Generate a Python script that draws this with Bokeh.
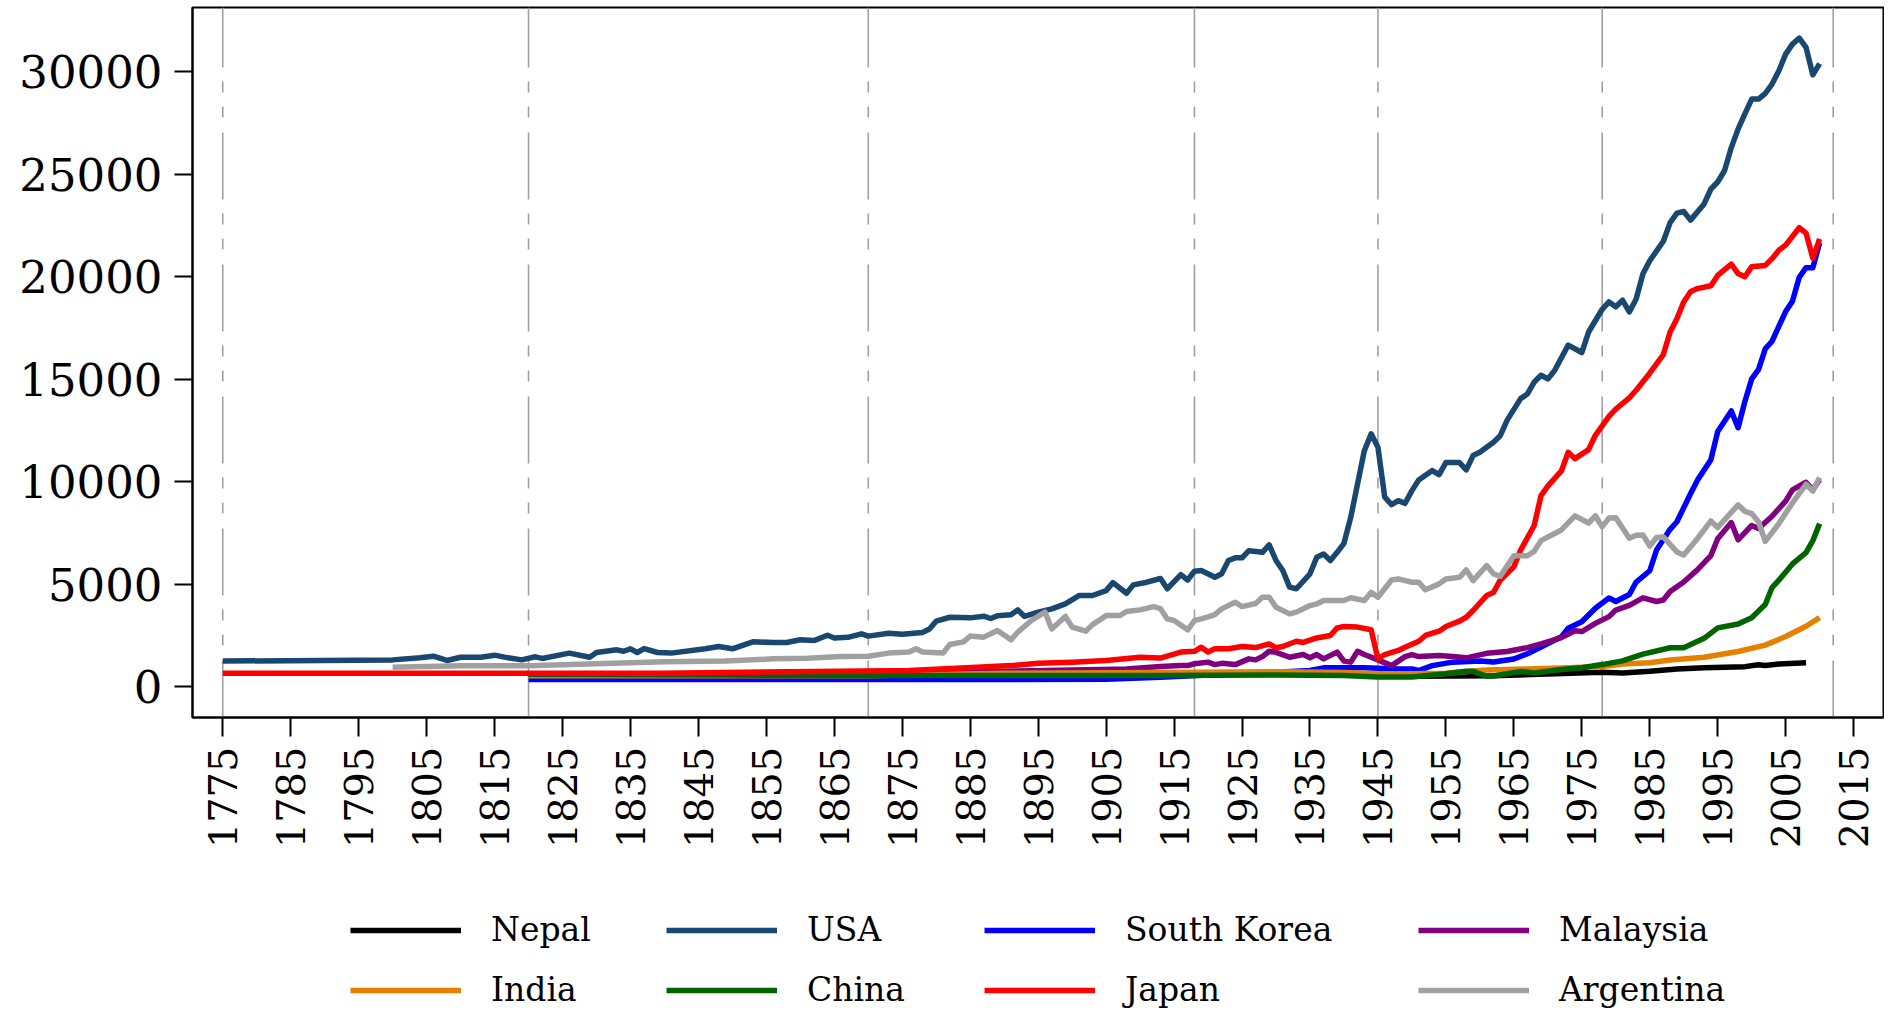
import math
from bokeh.plotting import figure
from bokeh.layouts import column
from bokeh.models import Range1d, FixedTicker, NumeralTickFormatter, Span, Legend, LegendItem
from bokeh.embed import file_html
from bokeh.resources import INLINE

# ---------------- data (GDP per capita) ----------------
nepal_years = [1950, 1962, 1978, 1981, 1985, 1989, 1993, 1999, 2001, 2002, 2004, 2008]
nepal_gdp = [500, 520, 700, 660, 740, 850, 920, 970, 1065, 1030, 1100, 1160]

usa_years = [1775, 1800, 1804, 1806, 1808, 1810, 1813, 1815, 1817, 1819, 1821, 1822, 1826, 1829, 1830,
             1833, 1834, 1835, 1836, 1837, 1839, 1841, 1846, 1848, 1850, 1853, 1856, 1858, 1860, 1862,
             1864, 1865, 1867, 1869, 1870, 1873, 1875, 1878, 1879, 1880, 1882, 1885, 1887, 1888, 1889,
             1891, 1892, 1893, 1895, 1897, 1899, 1901, 1903, 1905, 1906, 1908, 1909, 1911, 1913, 1914,
             1916, 1917, 1918, 1919, 1921, 1922, 1923, 1924, 1925, 1926, 1928, 1929, 1930, 1931, 1932,
             1933, 1935, 1936, 1937, 1938, 1939, 1940, 1941, 1943, 1944, 1945, 1946, 1947, 1948, 1949,
             1950, 1951, 1953, 1954, 1955, 1957, 1958, 1959, 1960, 1962, 1963, 1964, 1966, 1967, 1968,
             1969, 1970, 1971, 1973, 1975, 1976, 1978, 1979, 1980, 1981, 1982, 1983, 1984, 1985, 1987,
             1988, 1989, 1990, 1991, 1993, 1994, 1995, 1996, 1997, 1998, 1999, 2000, 2001, 2002, 2003,
             2004, 2005, 2006, 2007, 2008, 2009, 2010]
usa_gdp = [1240, 1300, 1400, 1480, 1270, 1430, 1430, 1530, 1400, 1300, 1450, 1370, 1630, 1430, 1660,
           1790, 1720, 1840, 1660, 1850, 1660, 1630, 1840, 1950, 1840, 2180, 2150, 2150, 2280, 2240,
           2500, 2370, 2400, 2570, 2460, 2600, 2550, 2640, 2810, 3190, 3380, 3350, 3430, 3320, 3450,
           3500, 3740, 3420, 3630, 3790, 4030, 4440, 4440, 4680, 5070, 4550, 4960, 5090, 5270, 4770,
           5460, 5200, 5630, 5660, 5330, 5500, 6150, 6280, 6280, 6630, 6550, 6910, 6150, 5660, 4850,
           4770, 5500, 6310, 6470, 6150, 6550, 6990, 8260, 11510, 12330, 11680, 9240, 8880, 9070, 8940,
           9560, 10080, 10540, 10340, 10930, 10930, 10570, 11270, 11430, 11920, 12240, 12990, 14050, 14280, 14860,
           15190, 15010, 15420, 16660, 16300, 17300, 18410, 18770, 18530, 18850, 18280, 18910, 20140, 20780, 21730,
           22640, 23100, 23180, 22760, 23550, 24280, 24620, 25170, 26300, 27200, 27940, 28670, 28670, 28940, 29400,
           30050, 30860, 31350, 31640, 31190, 29850, 30400]

korea_years = [1820, 1888, 1905, 1913, 1920, 1930, 1935, 1937, 1943, 1948, 1950, 1951, 1953, 1956, 1960,
               1962, 1965, 1967, 1969, 1972, 1973, 1975, 1977, 1979, 1980, 1982, 1983, 1985, 1986, 1988,
               1989, 1991, 1992, 1994, 1995, 1997, 1998, 1999, 2000, 2001, 2002, 2003, 2005, 2006, 2007,
               2008, 2009, 2010]
korea_gdp = [340, 340, 360, 450, 560, 700, 780, 910, 910, 860, 860, 780, 1020, 1190, 1240,
             1200, 1340, 1600, 1930, 2430, 2840, 3160, 3820, 4320, 4150, 4490, 5100, 5650, 6660, 7670,
             8040, 9410, 10060, 11070, 12440, 13450, 12630, 13910, 15010, 15470, 16480, 16850, 18300, 18800, 19970,
             20440, 20440, 21650]

malaysia_years = [1820, 1870, 1886, 1900, 1908, 1913, 1916, 1917, 1918, 1920, 1921, 1922, 1924, 1926, 1927,
                  1928, 1929, 1930, 1932, 1934, 1935, 1936, 1937, 1939, 1940, 1941, 1942, 1943, 1945, 1947,
                  1949, 1950, 1951, 1954, 1956, 1958, 1961, 1964, 1967, 1969, 1972, 1974, 1975, 1977, 1979,
                  1980, 1982, 1984, 1986, 1987, 1988, 1990, 1992, 1994, 1995, 1997, 1998, 2000, 2001, 2003,
                  2005, 2006, 2008, 2009, 2010]
malaysia_gdp = [600, 660, 720, 800, 860, 980, 1020, 1020, 1110, 1190, 1070, 1130, 1070, 1350, 1300,
                1460, 1720, 1670, 1430, 1560, 1400, 1560, 1350, 1680, 1240, 1190, 1720, 1560, 1300, 1020,
                1460, 1560, 1460, 1510, 1460, 1400, 1620, 1710, 1900, 2080, 2390, 2720, 2680, 3080, 3410,
                3730, 3960, 4330, 4150, 4220, 4640, 5100, 5690, 6390, 7210, 8000, 7160, 7860, 7710, 8310,
                9050, 9600, 9970, 9600, 10090]

india_years = [1820, 1870, 1890, 1913, 1930, 1940, 1945, 1950, 1955, 1961, 1967, 1972, 1978, 1981, 1985,
               1988, 1993, 1998, 2002, 2005, 2008, 2010]
india_gdp = [530, 530, 650, 690, 720, 690, 620, 620, 650, 810, 860, 900, 980, 1100, 1160,
             1290, 1430, 1710, 2020, 2440, 2940, 3360]

china_years = [1820, 1850, 1870, 1913, 1930, 1940, 1945, 1950, 1955, 1958, 1959, 1961, 1962, 1966, 1968,
               1972, 1975, 1978, 1981, 1984, 1988, 1990, 1993, 1995, 1998, 2000, 2002, 2003, 2004, 2006,
               2008, 2009, 2010]
china_gdp = [600, 560, 540, 540, 560, 540, 460, 470, 620, 750, 740, 500, 515, 735, 660,
             830, 920, 1070, 1250, 1580, 1890, 1890, 2350, 2860, 3050, 3360, 4000, 4830, 5190, 5980,
             6530, 7120, 7950]

japan_years = [1775, 1840, 1866, 1876, 1886, 1891, 1895, 1900, 1905, 1910, 1913, 1916, 1918, 1919, 1920,
               1921, 1923, 1925, 1927, 1929, 1930, 1931, 1933, 1934, 1936, 1938, 1939, 1940, 1942, 1944,
               1945, 1946, 1948, 1949, 1951, 1952, 1954, 1955, 1957, 1958, 1959, 1961, 1962, 1963, 1965,
               1966, 1968, 1969, 1970, 1972, 1973, 1974, 1976, 1977, 1979, 1980, 1982, 1983, 1985, 1986,
               1987, 1988, 1989, 1990, 1991, 1992, 1994, 1995, 1997, 1998, 1999, 2000, 2002, 2003, 2004,
               2005, 2007, 2008, 2009, 2010]
japan_gdp = [650, 650, 750, 780, 940, 1020, 1140, 1190, 1270, 1430, 1390, 1680, 1720, 1920, 1680,
             1840, 1840, 1950, 1900, 2080, 1890, 1950, 2210, 2150, 2370, 2490, 2860, 2930, 2900, 2770,
             1350, 1560, 1760, 1920, 2210, 2490, 2700, 2930, 3190, 3380, 3710, 4440, 4590, 5190, 5840,
             6660, 7860, 9320, 9780, 10520, 11430, 11120, 11560, 12260, 13180, 13540, 14090, 14460, 15290, 15750,
             16200, 17300, 17950, 18770, 19270, 19420, 19560, 20060, 20610, 20150, 20000, 20480, 20550, 20880, 21290,
             21540, 22390, 22130, 20900, 21850]

argentina_years = [1800, 1810, 1820, 1830, 1840, 1849, 1856, 1861, 1866, 1870, 1873, 1876, 1877, 1878, 1881,
                   1882, 1884, 1885, 1887, 1889, 1891, 1892, 1894, 1896, 1897, 1899, 1900, 1902, 1903, 1905,
                   1907, 1908, 1910, 1912, 1913, 1914, 1915, 1917, 1918, 1919, 1920, 1921, 1922, 1924, 1925,
                   1927, 1928, 1929, 1930, 1932, 1933, 1935, 1936, 1937, 1940, 1941, 1943, 1944, 1945, 1947,
                   1948, 1950, 1951, 1952, 1954, 1955, 1957, 1958, 1959, 1961, 1962, 1963, 1965, 1967, 1968,
                   1969, 1971, 1972, 1974, 1976, 1977, 1978, 1979, 1980, 1982, 1983, 1984, 1985, 1986, 1987,
                   1989, 1990, 1992, 1994, 1995, 1997, 1998, 1999, 2000, 2001, 2002, 2004, 2006, 2008, 2009,
                   2010]
argentina_gdp = [940, 1010, 1010, 1110, 1210, 1240, 1350, 1380, 1460, 1480, 1630, 1680, 1840, 1680, 1630,
                 2050, 2180, 2460, 2410, 2730, 2280, 2650, 3220, 3630, 2810, 3420, 2900, 2700, 3020, 3460,
                 3460, 3660, 3740, 3900, 3800, 3300, 3220, 2770, 3220, 3300, 3400, 3510, 3790, 4110, 3900,
                 4050, 4360, 4360, 3870, 3545, 3630, 3950, 4030, 4200, 4200, 4330, 4200, 4600, 4360, 5200,
                 5250, 5090, 5090, 4720, 5010, 5250, 5330, 5690, 5170, 5900, 5500, 5380, 6380, 6380, 6600,
                 7120, 7470, 7640, 8330, 7980, 8330, 7800, 8220, 8240, 7240, 7380, 7400, 6850, 7270, 7300,
                 6570, 6420, 7210, 8080, 7760, 8500, 8860, 8550, 8440, 8040, 7080, 7950, 8960, 9870, 9540,
                 10200]

event_years = [1775, 1820, 1870, 1918, 1945, 1978, 2012]
x_ticks = [1775, 1785, 1795, 1805, 1815, 1825, 1835, 1845, 1855, 1865, 1875, 1885, 1895,
           1905, 1915, 1925, 1935, 1945, 1955, 1965, 1975, 1985, 1995, 2005, 2015]
y_ticks = [0, 5000, 10000, 15000, 20000, 25000, 30000]

series = [
    ("Nepal", nepal_years, nepal_gdp, "#000000"),
    ("USA", usa_years, usa_gdp, "#1a476f"),
    ("South Korea", korea_years, korea_gdp, "#0000ff"),
    ("Malaysia", malaysia_years, malaysia_gdp, "#800080"),
    ("India", india_years, india_gdp, "#e68000"),
    ("China", china_years, china_gdp, "#006400"),
    ("Japan", japan_years, japan_gdp, "#ff0000"),
    ("Argentina", argentina_years, argentina_gdp, "#a0a0a0"),
]
legend_cols = [("Nepal", "India"), ("USA", "China"), ("South Korea", "Japan"), ("Malaysia", "Argentina")]

FONT = "DejaVu Serif"
LW = 5.5
LEFT = 192

# ---------------- main figure ----------------
p = figure(width=1884, height=870, output_backend="svg", toolbar_location=None,
           x_range=Range1d(1770.55, 2019.4), y_range=Range1d(-1512, 33137),
           min_border_left=LEFT, min_border_right=1, min_border_top=7, min_border_bottom=153)
p.background_fill_color = "white"
p.border_fill_color = "white"
p.outline_line_color = "black"
p.outline_line_width = 2
p.xgrid.visible = False
p.ygrid.visible = False

for yr in event_years:
    p.add_layout(Span(location=yr, dimension="height", line_color="#a0a0a0", line_width=1.6,
                      line_dash="67 14 11 14 11 15", line_dash_offset=7, level="underlay"))

for name, xs, ys, col in series:
    p.line(x=xs, y=ys, line_color=col, line_width=LW, line_join="round")

for ax in (p.xaxis, p.yaxis):
    ax.axis_line_color = "black"
    ax.axis_line_width = 2
    ax.major_tick_line_color = "black"
    ax.major_tick_line_width = 2
    ax.major_tick_in = 0
    ax.minor_tick_line_color = None
    ax.major_label_text_font = FONT
    ax.major_label_text_color = "black"

p.yaxis.ticker = FixedTicker(ticks=y_ticks)
p.yaxis.formatter = NumeralTickFormatter(format="0")
p.yaxis.major_tick_out = 18
p.yaxis.major_label_standoff = 12
p.yaxis.major_label_text_font_size = "45px"

p.xaxis.ticker = FixedTicker(ticks=x_ticks)
p.xaxis.major_tick_out = 19
p.xaxis.major_label_standoff = 10
p.xaxis.major_label_orientation = math.pi / 2
p.xaxis.major_label_text_font_size = "40px"

# ---------------- legend panel (separate figure below) ----------------
q = figure(width=1884, height=143, output_backend="svg", toolbar_location=None,
           x_range=Range1d(0, 1), y_range=Range1d(0, 1),
           x_axis_type=None, y_axis_type=None,
           min_border_left=LEFT, min_border_right=1, min_border_top=0, min_border_bottom=0)
q.outline_line_color = None
q.background_fill_color = "white"
q.border_fill_color = "white"
q.xgrid.visible = False
q.ygrid.visible = False

# legend keys: same series, drawn outside this panel's visible range
keys = {}
for name, xs, ys, col in series:
    keys[name] = q.line(x=xs, y=ys, line_color=col, line_width=LW)

col_starts = [350, 666, 984, 1418]
for names, xs0 in zip(legend_cols, col_starts):
    lg = Legend(items=[LegendItem(label=n, renderers=[keys[n]]) for n in names],
                location=(xs0 - LEFT, 4), orientation="vertical",
                glyph_width=111, glyph_height=36, label_height=36, label_standoff=30,
                spacing=21, padding=0, margin=0,
                border_line_color=None, background_fill_alpha=0,
                label_text_font=FONT, label_text_font_size="33px", label_text_color="black")
    q.add_layout(lg)

layout = column(p, q, spacing=0)
open("out.html", "w").write(file_html(layout, INLINE))
